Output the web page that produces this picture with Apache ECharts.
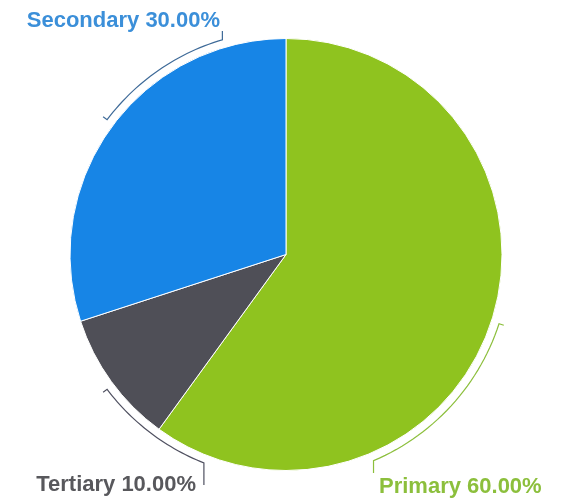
<!DOCTYPE html>
<html>
<head>
<meta charset="utf-8">
<script src="https://cdn.jsdelivr.net/npm/echarts@6/dist/echarts.min.js"></script>
<style>
  html, body { margin: 0; padding: 0; background: #fff; }
  #chart { width: 567px; height: 502px; }
</style>
</head>
<body>
<div id="chart"></div>
<script>
// slices, clockwise from 12 o'clock
const categories = ['Primary', 'Tertiary', 'Secondary']
const values = [60, 10, 30]
const sliceColors = ['#8fc31f', '#4f4f57', '#1785e6']
const labelColors = ['#8cbf3c', '#58585c', '#3b8fd9']
const lineColors = ['#8cbf3c', '#4f5060', '#3e6a98']

// pie geometry (px)
const cx = 286
const cy = 254.5
const R = 216
const bracketR = 224

// where each label sits and which part of the rim its bracket hugs
// arc: [end joined to the label, hooked end], degrees clockwise from top
const labelSpots = [
  { x: 379, y: 487, align: 'left', arc: [157, 108], tail: 473 },
  { x: 196, y: 485, align: 'right', arc: [201.5, 233], tail: 485 },
  { x: 220, y: 21, align: 'right', arc: [343.5, 307], tail: 31 }
]

function rimPoint(deg, r) {
  const a = deg * Math.PI / 180
  return [cx + r * Math.sin(a), cy - r * Math.cos(a)]
}

function bracketPoints(spot) {
  const a0 = spot.arc[0]
  const a1 = spot.arc[1]
  const start = rimPoint(a0, bracketR)
  const pts = [[start[0], spot.tail]]
  const steps = 30
  for (let i = 0; i <= steps; i++) {
    pts.push(rimPoint(a0 + (a1 - a0) * i / steps, bracketR))
  }
  pts.push(rimPoint(a1, bracketR + 5))
  return pts
}

const chart = echarts.init(document.getElementById('chart'))
chart.setOption({
  animation: false,
  series: [{
    type: 'pie',
    center: [cx, cy],
    radius: R,
    startAngle: 90,
    clockwise: true,
    avoidLabelOverlap: false,
    itemStyle: { borderColor: '#ffffff', borderWidth: 1 },
    label: {
      show: true,
      fontFamily: 'Liberation Sans, Arial, sans-serif',
      fontSize: 22,
      fontWeight: 'bold',
      formatter: (p) => p.name + ' ' + p.value.toFixed(2) + '%'
    },
    labelLine: { show: true, smooth: false, lineStyle: { width: 1.2 } },
    labelLayout: (params) => {
      const spot = labelSpots[params.dataIndex]
      return {
        x: spot.x,
        y: spot.y,
        align: spot.align,
        verticalAlign: 'middle',
        labelLinePoints: bracketPoints(spot)
      }
    },
    emphasis: { disabled: true },
    data: categories.map((name, i) => ({
      name: name,
      value: values[i],
      itemStyle: { color: sliceColors[i] },
      label: { color: labelColors[i] },
      labelLine: { lineStyle: { color: lineColors[i] } }
    }))
  }]
})
</script>
</body>
</html>
